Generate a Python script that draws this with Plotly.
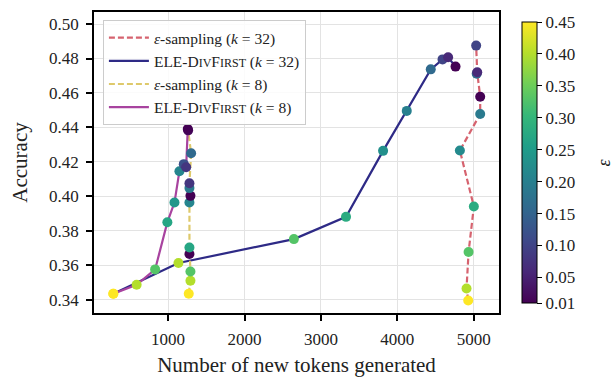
import plotly.graph_objects as go

# ε-sampling, k = 32
eps32_tokens = [4927, 4905, 4932, 5001, 4818, 5084, 5084, 5038, 5045, 5031]
eps32_acc = [0.3396, 0.3465, 0.3677, 0.3941, 0.4266, 0.4478, 0.4578, 0.4712, 0.4720, 0.4875]
eps32_eps = [0.45, 0.40, 0.33, 0.28, 0.22, 0.19, 0.01, 0.16, 0.06, 0.10]

# ELE-DivFirst, k = 32
ele32_tokens = [283, 1135, 2646, 3328, 3813, 4123, 4437, 4591, 4664, 4761]
ele32_acc = [0.3435, 0.3613, 0.3752, 0.3881, 0.4264, 0.4496, 0.4737, 0.4795, 0.4807, 0.4753]
ele32_eps = [0.45, 0.40, 0.33, 0.28, 0.23, 0.20, 0.16, 0.10, 0.06, 0.01]

# ε-sampling, k = 8
eps8_tokens = [1270, 1292, 1292, 1279, 1279, 1279, 1292, 1279, 1279, 1301, 1262]
eps8_acc = [0.3435, 0.3510, 0.3564, 0.3665, 0.3703, 0.3964, 0.4003, 0.4048, 0.4076, 0.4250, 0.4383]
eps8_eps = [0.45, 0.40, 0.33, 0.01, 0.27, 0.21, 0.01, 0.19, 0.08, 0.16, 0.02]

# ELE-DivFirst, k = 8
ele8_tokens = [283, 588, 830, 990, 1083, 1148, 1205, 1236, 1257]
ele8_acc = [0.3435, 0.3487, 0.3576, 0.3850, 0.3964, 0.4146, 0.4187, 0.4169, 0.4391]
ele8_eps = [0.45, 0.40, 0.33, 0.27, 0.24, 0.21, 0.12, 0.08, 0.01]

x_ticks = [1000, 2000, 3000, 4000, 5000]
y_ticks = [0.34, 0.36, 0.38, 0.40, 0.42, 0.44, 0.46, 0.48, 0.50]
cbar_ticks = [0.01, 0.05, 0.10, 0.15, 0.20, 0.25, 0.30, 0.35, 0.40, 0.45]

FONT = "Liberation Serif"
TICK = 17
SC = "<span style='font-size:12px'>"
div_first = f"D{SC}IV</span>F{SC}IRST</span>"
EQ = "\u00a0=\u00a0"

series = [
    (eps32_tokens, eps32_acc, eps32_eps, "#d6636f", "dash", f"<i>ε</i>-sampling (<i>k</i>{EQ}32)"),
    (ele32_tokens, ele32_acc, ele32_eps, "#2e2a86", "solid", f"ELE-{div_first} (<i>k</i>{EQ}32)"),
    (eps8_tokens, eps8_acc, eps8_eps, "#dec96b", "dash", f"<i>ε</i>-sampling (<i>k</i>{EQ}8)"),
    (ele8_tokens, ele8_acc, ele8_eps, "#a8439f", "solid", f"ELE-{div_first} (<i>k</i>{EQ}8)"),
]

fig = go.Figure()

for tok, acc, eps, color, dash, name in series:
    fig.add_trace(go.Scatter(
        x=tok, y=acc, mode="lines", name=name,
        line=dict(color=color, width=2.2, dash="6px,3px" if dash == "dash" else "solid"),
        hoverinfo="skip",
    ))

for i, (tok, acc, eps, color, dash, name) in enumerate(series):
    fig.add_trace(go.Scatter(
        x=tok, y=acc, mode="markers", showlegend=False,
        marker=dict(
            size=10, color=eps, colorscale="Viridis", cmin=0.01, cmax=0.45,
            line=dict(width=0),
            showscale=(i == 0),
            colorbar=dict(
                x=1.032, xanchor="left", y=0.5, yanchor="middle",
                len=1.0, lenmode="fraction", thickness=15,
                outlinecolor="black", outlinewidth=1,
                tickvals=cbar_ticks, ticktext=[f"{v:.2f}" for v in cbar_ticks],
                ticks="outside", ticklen=5, tickcolor="black", tickwidth=1.2,
                tickfont=dict(family=FONT, size=TICK, color="#222"),
            ),
        ),
    ))

axis_common = dict(
    showline=True, linecolor="black", linewidth=1.5, mirror=True,
    ticks="outside", ticklen=6, tickwidth=1.5, tickcolor="black",
    showgrid=True, gridcolor="#e3e3e3", gridwidth=1, zeroline=False,
    tickfont=dict(family=FONT, size=TICK, color="#222"),
    ticklabelstandoff=4,
)

fig.update_xaxes(
    range=[30, 5330], tickvals=x_ticks,
    title=dict(text="Number of new tokens generated", font=dict(family=FONT, size=21, color="#222"), standoff=11),
    **axis_common,
)
fig.update_yaxes(
    range=[0.3323, 0.507], tickvals=y_ticks, tickformat=".2f",
    title=dict(text="Accuracy", font=dict(family=FONT, size=21, color="#222"), standoff=16),
    **axis_common,
)

# colour-bar label
fig.add_annotation(
    text="<i>ε</i>", xref="paper", yref="paper", x=(603 - 94) / 405, y=0.5,
    showarrow=False, textangle=-90, font=dict(family=FONT, size=18, color="#222"),
    xanchor="center", yanchor="middle",
)

fig.update_layout(
    width=613, height=377,
    margin=dict(l=94, r=114, t=12, b=64, autoexpand=False),
    paper_bgcolor="white", plot_bgcolor="white",
    font=dict(family=FONT, color="#222"),
    legend=dict(
        x=0.022, y=0.973, xanchor="left", yanchor="top",
        bgcolor="rgba(255,255,255,0.85)", bordercolor="#cccccc", borderwidth=1,
        font=dict(family=FONT, size=15.5, color="#222"),
        itemwidth=40, tracegroupgap=0,
        entrywidth=190, entrywidthmode="pixels",
    ),
    showlegend=True,
)

fig.write_html("out.html")
